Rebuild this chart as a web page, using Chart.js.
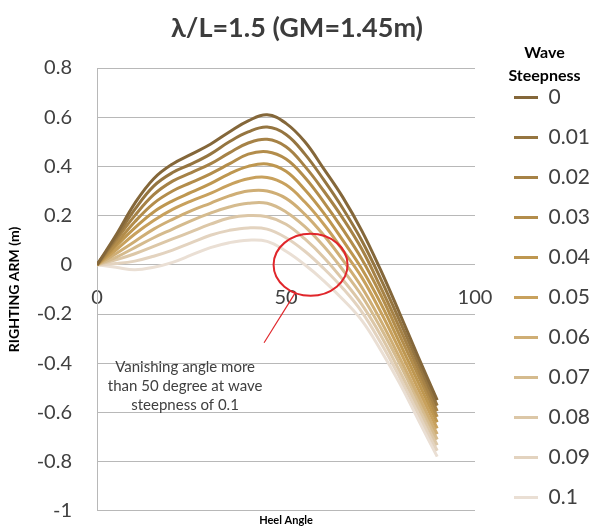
<!DOCTYPE html>
<html><head><meta charset="utf-8">
<script src="https://cdn.jsdelivr.net/npm/chart.js@4.4.1/dist/chart.umd.min.js"></script>
<style>html,body{margin:0;padding:0;background:#fff;}canvas{display:block;}</style>
</head><body>
<canvas id="chart" width="594" height="532"></canvas>
<script>
// Heel angle (degrees)
const heelAngles = [0, 5, 10, 15, 20, 25, 30, 35, 40, 45, 50, 55, 60, 65, 70, 75, 80, 85, 90];
// Wave steepness categories
const steepnessLabels = ['0', '0.01', '0.02', '0.03', '0.04', '0.05', '0.06', '0.07', '0.08', '0.09', '0.1'];
// Righting arm (m) per wave steepness
const arm_000 = [0, 0.12, 0.25, 0.35, 0.41, 0.45, 0.49, 0.54, 0.585, 0.61, 0.575, 0.50, 0.39, 0.275, 0.14, -0.02, -0.195, -0.375, -0.55];
const arm_001 = [0, 0.11, 0.225, 0.32, 0.375, 0.41, 0.45, 0.50, 0.54, 0.56, 0.53, 0.45, 0.345, 0.23, 0.10, -0.055, -0.225, -0.40, -0.572];
const arm_002 = [0, 0.10, 0.20, 0.285, 0.34, 0.375, 0.41, 0.455, 0.495, 0.51, 0.48, 0.40, 0.30, 0.19, 0.065, -0.09, -0.255, -0.425, -0.595];
const arm_003 = [0, 0.085, 0.175, 0.25, 0.30, 0.335, 0.37, 0.41, 0.45, 0.46, 0.43, 0.355, 0.255, 0.145, 0.025, -0.12, -0.285, -0.45, -0.618];
const arm_004 = [0, 0.075, 0.15, 0.215, 0.26, 0.295, 0.33, 0.37, 0.40, 0.41, 0.38, 0.305, 0.21, 0.10, -0.015, -0.155, -0.315, -0.478, -0.64];
const arm_005 = [0, 0.06, 0.125, 0.18, 0.225, 0.26, 0.29, 0.325, 0.35, 0.355, 0.325, 0.255, 0.165, 0.06, -0.05, -0.19, -0.345, -0.505, -0.665];
const arm_006 = [0, 0.045, 0.095, 0.145, 0.185, 0.22, 0.25, 0.28, 0.30, 0.30, 0.27, 0.205, 0.12, 0.02, -0.09, -0.225, -0.375, -0.532, -0.688];
const arm_007 = [0, 0.03, 0.07, 0.11, 0.145, 0.18, 0.21, 0.235, 0.25, 0.25, 0.215, 0.155, 0.075, -0.02, -0.125, -0.255, -0.40, -0.555, -0.71];
const arm_008 = [0, 0.02, 0.045, 0.075, 0.105, 0.135, 0.165, 0.19, 0.20, 0.195, 0.165, 0.105, 0.03, -0.06, -0.16, -0.285, -0.43, -0.58, -0.733];
const arm_009 = [0, 0.005, 0.015, 0.035, 0.06, 0.09, 0.12, 0.14, 0.15, 0.145, 0.11, 0.055, -0.015, -0.095, -0.19, -0.315, -0.455, -0.605, -0.756];
const arm_010 = [0, -0.01, -0.02, -0.01, 0.01, 0.04, 0.07, 0.09, 0.10, 0.095, 0.055, 0, -0.065, -0.14, -0.225, -0.345, -0.48, -0.63, -0.78];
const armSeries = [arm_000, arm_001, arm_002, arm_003, arm_004, arm_005, arm_006, arm_007, arm_008, arm_009, arm_010];
// Axis ticks
const xTickStep = 50;
const yTickStep = 0.2;
const noteLines = ['Vanishing angle more', 'than 50 degree at wave', 'steepness of 0.1'];

// Styles
const lineColors = ['#84673a', '#957540', '#a68246', '#b38d4b', '#be9750', '#c8a15d', '#cfae75', '#d5bb8e', '#dcc7a7', '#e3d3bf', '#eadfd4'];

Chart.defaults.font.family = 'Lato, "Open Sans", sans-serif';

const notePlugin = {
  id: 'note',
  afterDatasetsDraw(chart) {
    const {ctx, scales: {x, y}} = chart;
    ctx.save();
    ctx.strokeStyle = '#e0262b';
    ctx.lineWidth = 2;
    ctx.beginPath();
    ctx.ellipse(x.getPixelForValue(56.5), y.getPixelForValue(0), 37, 31, 0, 0, Math.PI * 2);
    ctx.stroke();
    ctx.lineWidth = 1.2;
    ctx.beginPath();
    ctx.moveTo(x.getPixelForValue(52.6), y.getPixelForValue(-0.11));
    ctx.lineTo(x.getPixelForValue(44.2), y.getPixelForValue(-0.317));
    ctx.stroke();
    ctx.fillStyle = '#404040';
    ctx.font = '15px Lato, sans-serif';
    ctx.textAlign = 'center';
    ctx.textBaseline = 'middle';
    const tx = x.getPixelForValue(23.3);
    const ty = y.getPixelForValue(-0.415);
    noteLines.forEach((l, i) => ctx.fillText(l, tx, ty + i * 19));
    ctx.restore();
  }
};

new Chart(document.getElementById('chart'), {
  type: 'line',
  data: {
    datasets: steepnessLabels.map((lab, i) => ({
      label: lab,
      data: heelAngles.map((a, j) => ({x: a, y: armSeries[i][j]})),
      borderColor: lineColors[i],
      backgroundColor: lineColors[i],
      borderWidth: 3,
      pointRadius: 0,
      tension: 0.4,
      fill: false
    }))
  },
  options: {
    responsive: false,
    animation: false,
    devicePixelRatio: 1,
    layout: {padding: 0},
    scales: {
      x: {
        type: 'linear', min: 0, max: 100, position: {y: 0},
        grid: {display: false, drawTicks: false},
        border: {display: false},
        ticks: {stepSize: xTickStep, padding: 21, font: {size: 20}, color: '#404040'}
      },
      y: {
        min: -1, max: 0.8, position: 'left',
        afterFit: s => { s.width = 97; },
        grid: {color: '#b8b8b8', drawTicks: true, tickLength: 22, tickColor: 'rgba(0,0,0,0)'},
        border: {color: '#b8b8b8'},
        ticks: {stepSize: yTickStep, padding: 3, font: {size: 20}, color: '#404040',
          callback: v => String(Math.round(v * 10) / 10)},
        title: {display: true, text: 'RIGHTING ARM (m)', font: {size: 14, weight: 'bold'}, color: '#000', padding: {top: 6, bottom: 0}}
      },
      spacer: {
        type: 'linear', position: 'right', display: true, min: 0, max: 1,
        grid: {display: false, drawTicks: false}, border: {display: false},
        ticks: {display: false},
        afterFit: s => { s.width = 20; }
      }
    },
    plugins: {
      title: {
        display: true, text: 'λ/L=1.5 (GM=1.45m)', color: '#3c3c3c',
        font: {size: 27, weight: 'bold'}, padding: {top: 12, bottom: 23.6}
      },
      subtitle: {
        display: true, position: 'bottom', fullSize: false, text: 'Heel Angle', color: '#000',
        font: {size: 11, weight: 'bold'}, padding: {top: 3, bottom: 5}
      },
      legend: {
        position: 'right', align: 'start', maxWidth: 99,
        title: {display: true, text: ['Wave', 'Steepness'], color: '#000',
          font: {size: 16, weight: 'bold', lineHeight: 1.4375}, padding: {top: 45, bottom: 0}},
        labels: {usePointStyle: true, pointStyle: 'line', pointStyleWidth: 24, padding: 19,
          font: {size: 21}, color: '#404040'}
      },
      tooltip: {enabled: false}
    }
  },
  plugins: [notePlugin]
});
</script>
</body></html>
